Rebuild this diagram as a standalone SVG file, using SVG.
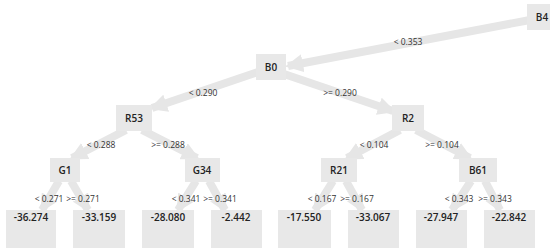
<svg xmlns="http://www.w3.org/2000/svg" width="550" height="248" viewBox="0 0 550 248">
<defs>
<marker id="ah" markerUnits="userSpaceOnUse" markerWidth="18" markerHeight="18" viewBox="0 0 18 18" refX="15" refY="9" orient="auto">
<path d="M0,0 L18,9 L0,18 z" fill="#e6e6e6"/>
</marker>
</defs>
<style>
.n{fill:#e8e8e8}
.t{font-family:"Open Sans","Noto Sans",sans-serif;font-size:10px;font-weight:600;fill:#222;text-anchor:middle}
.lt{font-family:"Open Sans","Noto Sans",sans-serif;font-size:10px;font-weight:600;fill:#222;text-anchor:middle}
.e{stroke:#e6e6e6;stroke-width:8;fill:none;marker-end:url(#ah)}
.el{font-family:"Open Sans","Noto Sans",sans-serif;font-size:8.5px;fill:#333;text-anchor:middle}
</style>
<rect width="550" height="248" fill="#fff"/>
<g id="connectors">
<line class="e" x1="530" y1="20" x2="288" y2="66"/>
<line class="e" x1="258" y1="72" x2="152" y2="108"/>
<line class="e" x1="284" y1="74" x2="393" y2="111"/>
<line class="e" x1="126" y1="130" x2="72" y2="158"/>
<line class="e" x1="142" y1="130" x2="197" y2="158"/>
<line class="e" x1="400" y1="130" x2="347" y2="158"/>
<line class="e" x1="416" y1="130" x2="470" y2="158"/>
<line class="e" x1="59" y1="181" x2="42" y2="210"/>
<line class="e" x1="71" y1="181" x2="88" y2="210"/>
<line class="e" x1="196" y1="181" x2="178" y2="210"/>
<line class="e" x1="209" y1="181" x2="225" y2="210"/>
<line class="e" x1="333" y1="181" x2="315" y2="210"/>
<line class="e" x1="346" y1="181" x2="362" y2="210"/>
<line class="e" x1="471" y1="181" x2="452" y2="210"/>
<line class="e" x1="485" y1="181" x2="500" y2="210"/>
<text class="el" x="408" y="45">&lt; 0.353</text>
<text class="el" x="203" y="96">&lt; 0.290</text>
<text class="el" x="340" y="96">&gt;= 0.290</text>
<text class="el" x="101" y="148">&lt; 0.288</text>
<text class="el" x="168" y="148">&gt;= 0.288</text>
<text class="el" x="374" y="148">&lt; 0.104</text>
<text class="el" x="442" y="148">&gt;= 0.104</text>
<text class="el" x="49" y="202">&lt; 0.271</text>
<text class="el" x="83" y="202">&gt;= 0.271</text>
<text class="el" x="186" y="202">&lt; 0.341</text>
<text class="el" x="220" y="202">&gt;= 0.341</text>
<text class="el" x="322" y="202">&lt; 0.167</text>
<text class="el" x="357" y="202">&gt;= 0.167</text>
<text class="el" x="459" y="202">&lt; 0.343</text>
<text class="el" x="495" y="202">&gt;= 0.343</text>
</g>
<g id="B4"><rect class="n" x="527" y="4" width="30" height="26"/><text class="t" x="542" y="21">B4</text></g>
<g id="B0"><rect class="n" x="256" y="54" width="30" height="26"/><text class="t" x="271" y="71">B0</text></g>
<g id="R53"><rect class="n" x="116" y="105" width="36" height="26"/><text class="t" x="134" y="122">R53</text></g>
<g id="R2"><rect class="n" x="392" y="105" width="32" height="26"/><text class="t" x="408" y="122">R2</text></g>
<g id="G1"><rect class="n" x="50" y="158" width="30" height="24"/><text class="t" x="65" y="174">G1</text></g>
<g id="G34"><rect class="n" x="185" y="158" width="35" height="24"/><text class="t" x="202" y="174">G34</text></g>
<g id="R21"><rect class="n" x="321" y="158" width="36" height="24"/><text class="t" x="339" y="174">R21</text></g>
<g id="B61"><rect class="n" x="459" y="158" width="38" height="24"/><text class="t" x="478" y="174">B61</text></g>
<g id="L1"><rect class="n" x="6" y="210" width="50" height="45"/><text class="lt" x="31" y="221">-36.274</text></g>
<g id="L2"><rect class="n" x="73" y="210" width="52" height="45"/><text class="lt" x="99" y="221">-33.159</text></g>
<g id="L3"><rect class="n" x="142" y="210" width="52" height="45"/><text class="lt" x="168" y="221">-28.080</text></g>
<g id="L4"><rect class="n" x="211" y="210" width="51" height="45"/><text class="lt" x="236" y="221">-2.442</text></g>
<g id="L5"><rect class="n" x="278" y="210" width="53" height="45"/><text class="lt" x="304" y="221">-17.550</text></g>
<g id="L6"><rect class="n" x="348" y="210" width="51" height="45"/><text class="lt" x="373" y="221">-33.067</text></g>
<g id="L7"><rect class="n" x="416" y="210" width="51" height="45"/><text class="lt" x="441" y="221">-27.947</text></g>
<g id="L8"><rect class="n" x="484" y="210" width="51" height="45"/><text class="lt" x="509" y="221">-22.842</text></g>
</svg>
